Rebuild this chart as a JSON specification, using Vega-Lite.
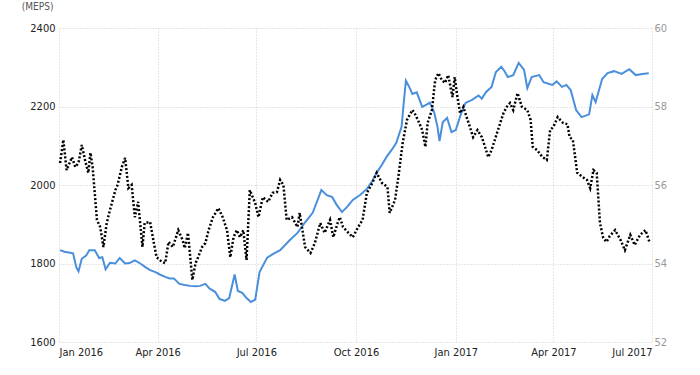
{
  "$schema": "https://vega.github.io/schema/vega-lite/v6.json",
  "width": 593,
  "height": 314,
  "autosize": {"type": "none"},
  "padding": {"left": 59, "top": 28, "right": 48, "bottom": 33},
  "background": "white",
  "title": {"text": "(MEPS)", "anchor": "start", "offset": 10, "dx": -8, "fontSize": 10, "font": "DejaVu Sans Condensed", "fontWeight": "normal", "color": "#555"},
  "config": {
    "view": {"stroke": null},
    "font": "DejaVu Sans Condensed"
  },
  "datasets": {
    "steel": [
      {"date": "2016-01-02", "v": 1834}, {"date": "2016-01-06", "v": 1830}, {"date": "2016-01-10", "v": 1828},
      {"date": "2016-01-14", "v": 1826}, {"date": "2016-01-17", "v": 1790}, {"date": "2016-01-19", "v": 1780},
      {"date": "2016-01-22", "v": 1812}, {"date": "2016-01-26", "v": 1820}, {"date": "2016-01-29", "v": 1834},
      {"date": "2016-02-03", "v": 1834}, {"date": "2016-02-07", "v": 1814}, {"date": "2016-02-10", "v": 1816},
      {"date": "2016-02-13", "v": 1785}, {"date": "2016-02-17", "v": 1802}, {"date": "2016-02-22", "v": 1800},
      {"date": "2016-02-26", "v": 1814}, {"date": "2016-03-02", "v": 1800}, {"date": "2016-03-06", "v": 1801},
      {"date": "2016-03-11", "v": 1808}, {"date": "2016-03-16", "v": 1800}, {"date": "2016-03-21", "v": 1790},
      {"date": "2016-03-25", "v": 1783}, {"date": "2016-03-30", "v": 1778}, {"date": "2016-04-03", "v": 1772},
      {"date": "2016-04-08", "v": 1766}, {"date": "2016-04-12", "v": 1762}, {"date": "2016-04-16", "v": 1762},
      {"date": "2016-04-21", "v": 1748}, {"date": "2016-04-26", "v": 1745}, {"date": "2016-05-01", "v": 1743},
      {"date": "2016-05-06", "v": 1742}, {"date": "2016-05-10", "v": 1743}, {"date": "2016-05-15", "v": 1748},
      {"date": "2016-05-19", "v": 1736}, {"date": "2016-05-24", "v": 1728}, {"date": "2016-05-28", "v": 1710},
      {"date": "2016-06-02", "v": 1705}, {"date": "2016-06-06", "v": 1712}, {"date": "2016-06-09", "v": 1748},
      {"date": "2016-06-11", "v": 1772}, {"date": "2016-06-14", "v": 1730}, {"date": "2016-06-18", "v": 1725},
      {"date": "2016-06-22", "v": 1712}, {"date": "2016-06-26", "v": 1702}, {"date": "2016-06-30", "v": 1708},
      {"date": "2016-07-04", "v": 1778}, {"date": "2016-07-11", "v": 1815}, {"date": "2016-07-17", "v": 1825},
      {"date": "2016-07-23", "v": 1834}, {"date": "2016-08-01", "v": 1860}, {"date": "2016-08-08", "v": 1878},
      {"date": "2016-08-15", "v": 1905}, {"date": "2016-08-22", "v": 1929}, {"date": "2016-08-26", "v": 1958},
      {"date": "2016-08-30", "v": 1987}, {"date": "2016-09-04", "v": 1974}, {"date": "2016-09-09", "v": 1969},
      {"date": "2016-09-13", "v": 1950}, {"date": "2016-09-18", "v": 1931}, {"date": "2016-09-23", "v": 1945},
      {"date": "2016-09-28", "v": 1962}, {"date": "2016-10-05", "v": 1975}, {"date": "2016-10-11", "v": 1990},
      {"date": "2016-10-16", "v": 2010}, {"date": "2016-10-20", "v": 2031}, {"date": "2016-10-25", "v": 2052},
      {"date": "2016-10-29", "v": 2071}, {"date": "2016-11-03", "v": 2090}, {"date": "2016-11-07", "v": 2107},
      {"date": "2016-11-12", "v": 2148}, {"date": "2016-11-14", "v": 2210}, {"date": "2016-11-16", "v": 2266},
      {"date": "2016-11-19", "v": 2250}, {"date": "2016-11-22", "v": 2232}, {"date": "2016-11-26", "v": 2236},
      {"date": "2016-12-01", "v": 2199}, {"date": "2016-12-05", "v": 2205}, {"date": "2016-12-08", "v": 2210},
      {"date": "2016-12-12", "v": 2186}, {"date": "2016-12-15", "v": 2150}, {"date": "2016-12-17", "v": 2112},
      {"date": "2016-12-20", "v": 2160}, {"date": "2016-12-24", "v": 2171}, {"date": "2016-12-28", "v": 2135},
      {"date": "2017-01-01", "v": 2140}, {"date": "2017-01-06", "v": 2183}, {"date": "2017-01-10", "v": 2209},
      {"date": "2017-01-16", "v": 2217}, {"date": "2017-01-22", "v": 2228}, {"date": "2017-01-25", "v": 2220},
      {"date": "2017-01-29", "v": 2237}, {"date": "2017-02-03", "v": 2250}, {"date": "2017-02-07", "v": 2288},
      {"date": "2017-02-12", "v": 2301}, {"date": "2017-02-15", "v": 2290}, {"date": "2017-02-18", "v": 2275},
      {"date": "2017-02-23", "v": 2280}, {"date": "2017-02-28", "v": 2311}, {"date": "2017-03-05", "v": 2293},
      {"date": "2017-03-08", "v": 2247}, {"date": "2017-03-12", "v": 2275}, {"date": "2017-03-19", "v": 2280},
      {"date": "2017-03-23", "v": 2262}, {"date": "2017-03-31", "v": 2255}, {"date": "2017-04-04", "v": 2264},
      {"date": "2017-04-09", "v": 2250}, {"date": "2017-04-13", "v": 2255}, {"date": "2017-04-17", "v": 2242},
      {"date": "2017-04-22", "v": 2191}, {"date": "2017-04-27", "v": 2173}, {"date": "2017-05-04", "v": 2180},
      {"date": "2017-05-07", "v": 2229}, {"date": "2017-05-10", "v": 2211}, {"date": "2017-05-16", "v": 2270},
      {"date": "2017-05-21", "v": 2285}, {"date": "2017-05-27", "v": 2290}, {"date": "2017-06-03", "v": 2283},
      {"date": "2017-06-10", "v": 2295}, {"date": "2017-06-16", "v": 2280}, {"date": "2017-06-22", "v": 2283},
      {"date": "2017-06-28", "v": 2285}
    ],
    "other": [
      {"date": "2016-01-02", "r": 56.56}, {"date": "2016-01-05", "r": 57.15}, {"date": "2016-01-08", "r": 56.38},
      {"date": "2016-01-13", "r": 56.71}, {"date": "2016-01-16", "r": 56.46}, {"date": "2016-01-19", "r": 56.56},
      {"date": "2016-01-22", "r": 57.02}, {"date": "2016-01-25", "r": 56.64}, {"date": "2016-01-28", "r": 56.31},
      {"date": "2016-01-30", "r": 56.82}, {"date": "2016-02-01", "r": 56.46}, {"date": "2016-02-05", "r": 55.11},
      {"date": "2016-02-08", "r": 54.93}, {"date": "2016-02-11", "r": 54.42}, {"date": "2016-02-14", "r": 55.03},
      {"date": "2016-02-17", "r": 55.36}, {"date": "2016-02-22", "r": 55.87}, {"date": "2016-02-24", "r": 56.0},
      {"date": "2016-02-28", "r": 56.46}, {"date": "2016-03-02", "r": 56.69}, {"date": "2016-03-05", "r": 55.92},
      {"date": "2016-03-08", "r": 56.0}, {"date": "2016-03-11", "r": 55.18}, {"date": "2016-03-14", "r": 55.57},
      {"date": "2016-03-18", "r": 54.42}, {"date": "2016-03-20", "r": 55.03}, {"date": "2016-03-25", "r": 55.06},
      {"date": "2016-03-28", "r": 54.6}, {"date": "2016-03-31", "r": 54.16}, {"date": "2016-04-05", "r": 54.04},
      {"date": "2016-04-08", "r": 54.01}, {"date": "2016-04-11", "r": 54.55}, {"date": "2016-04-15", "r": 54.42},
      {"date": "2016-04-20", "r": 54.85}, {"date": "2016-04-24", "r": 54.6}, {"date": "2016-04-26", "r": 54.39},
      {"date": "2016-04-29", "r": 54.78}, {"date": "2016-05-03", "r": 53.58}, {"date": "2016-05-06", "r": 54.01},
      {"date": "2016-05-08", "r": 54.14}, {"date": "2016-05-12", "r": 54.42}, {"date": "2016-05-15", "r": 54.52},
      {"date": "2016-05-18", "r": 54.85}, {"date": "2016-05-22", "r": 55.18}, {"date": "2016-05-27", "r": 55.41},
      {"date": "2016-05-31", "r": 55.18}, {"date": "2016-06-04", "r": 54.85}, {"date": "2016-06-07", "r": 54.16},
      {"date": "2016-06-10", "r": 54.67}, {"date": "2016-06-13", "r": 54.85}, {"date": "2016-06-16", "r": 54.67},
      {"date": "2016-06-19", "r": 54.85}, {"date": "2016-06-22", "r": 54.09}, {"date": "2016-06-25", "r": 55.87},
      {"date": "2016-06-30", "r": 55.54}, {"date": "2016-07-03", "r": 55.18}, {"date": "2016-07-07", "r": 55.69},
      {"date": "2016-07-12", "r": 55.57}, {"date": "2016-07-16", "r": 55.8}, {"date": "2016-07-20", "r": 55.82},
      {"date": "2016-07-23", "r": 56.13}, {"date": "2016-07-26", "r": 56.0}, {"date": "2016-07-29", "r": 55.11},
      {"date": "2016-08-03", "r": 55.18}, {"date": "2016-08-08", "r": 54.93}, {"date": "2016-08-10", "r": 55.29},
      {"date": "2016-08-15", "r": 54.42}, {"date": "2016-08-20", "r": 54.27}, {"date": "2016-08-24", "r": 54.52},
      {"date": "2016-08-29", "r": 55.03}, {"date": "2016-09-02", "r": 54.78}, {"date": "2016-09-07", "r": 55.11},
      {"date": "2016-09-10", "r": 54.67}, {"date": "2016-09-14", "r": 55.03}, {"date": "2016-09-16", "r": 55.18},
      {"date": "2016-09-19", "r": 54.93}, {"date": "2016-09-24", "r": 54.78}, {"date": "2016-09-28", "r": 54.67},
      {"date": "2016-10-03", "r": 54.93}, {"date": "2016-10-07", "r": 55.11}, {"date": "2016-10-11", "r": 55.8},
      {"date": "2016-10-16", "r": 56.05}, {"date": "2016-10-20", "r": 56.31}, {"date": "2016-10-25", "r": 56.05},
      {"date": "2016-10-30", "r": 55.95}, {"date": "2016-11-01", "r": 55.29}, {"date": "2016-11-06", "r": 55.62},
      {"date": "2016-11-09", "r": 56.2}, {"date": "2016-11-13", "r": 57.07}, {"date": "2016-11-17", "r": 57.66},
      {"date": "2016-11-22", "r": 57.91}, {"date": "2016-11-24", "r": 57.83}, {"date": "2016-11-27", "r": 57.66},
      {"date": "2016-12-01", "r": 57.4}, {"date": "2016-12-04", "r": 56.97}, {"date": "2016-12-06", "r": 57.58},
      {"date": "2016-12-10", "r": 57.91}, {"date": "2016-12-13", "r": 58.68}, {"date": "2016-12-16", "r": 58.85},
      {"date": "2016-12-19", "r": 58.68}, {"date": "2016-12-22", "r": 58.6}, {"date": "2016-12-25", "r": 58.8},
      {"date": "2016-12-29", "r": 58.24}, {"date": "2016-12-31", "r": 58.75}, {"date": "2017-01-02", "r": 58.34},
      {"date": "2017-01-05", "r": 57.83}, {"date": "2017-01-08", "r": 57.99}, {"date": "2017-01-11", "r": 57.73},
      {"date": "2017-01-14", "r": 57.48}, {"date": "2017-01-17", "r": 57.22}, {"date": "2017-01-21", "r": 57.4},
      {"date": "2017-01-25", "r": 57.22}, {"date": "2017-01-28", "r": 56.97}, {"date": "2017-01-31", "r": 56.71},
      {"date": "2017-02-03", "r": 56.89}, {"date": "2017-02-08", "r": 57.32}, {"date": "2017-02-11", "r": 57.58},
      {"date": "2017-02-14", "r": 57.83}, {"date": "2017-02-17", "r": 57.99}, {"date": "2017-02-20", "r": 58.09},
      {"date": "2017-02-23", "r": 57.91}, {"date": "2017-02-27", "r": 58.34}, {"date": "2017-03-03", "r": 57.99},
      {"date": "2017-03-08", "r": 57.91}, {"date": "2017-03-11", "r": 57.66}, {"date": "2017-03-13", "r": 56.97},
      {"date": "2017-03-17", "r": 56.89}, {"date": "2017-03-22", "r": 56.71}, {"date": "2017-03-26", "r": 56.64},
      {"date": "2017-03-29", "r": 57.4}, {"date": "2017-04-01", "r": 57.48}, {"date": "2017-04-05", "r": 57.73},
      {"date": "2017-04-10", "r": 57.58}, {"date": "2017-04-14", "r": 57.55}, {"date": "2017-04-16", "r": 57.22},
      {"date": "2017-04-19", "r": 57.15}, {"date": "2017-04-23", "r": 56.31}, {"date": "2017-04-28", "r": 56.2},
      {"date": "2017-05-02", "r": 56.13}, {"date": "2017-05-05", "r": 55.92}, {"date": "2017-05-08", "r": 56.38},
      {"date": "2017-05-11", "r": 56.31}, {"date": "2017-05-14", "r": 55.03}, {"date": "2017-05-17", "r": 54.65},
      {"date": "2017-05-20", "r": 54.55}, {"date": "2017-05-23", "r": 54.7}, {"date": "2017-05-28", "r": 54.85},
      {"date": "2017-06-02", "r": 54.6}, {"date": "2017-06-06", "r": 54.34}, {"date": "2017-06-11", "r": 54.73},
      {"date": "2017-06-15", "r": 54.47}, {"date": "2017-06-20", "r": 54.73}, {"date": "2017-06-25", "r": 54.85},
      {"date": "2017-06-29", "r": 54.52}
    ]
  },
  "encoding": {
    "x": {
      "field": "date", "type": "temporal",
      "scale": {"type": "utc", "domain": [{"year": 2016, "month": 1, "date": 1, "utc": true}, {"year": 2017, "month": 7, "date": 1, "utc": true}]},
      "axis": {
        "title": null,
        "labelExpr": "utcFormat(datum.value, '%b %Y')",
        "values": [
          {"year": 2016, "month": 1, "date": 1, "utc": true}, {"year": 2016, "month": 4, "date": 1, "utc": true},
          {"year": 2016, "month": 7, "date": 1, "utc": true}, {"year": 2016, "month": 10, "date": 1, "utc": true},
          {"year": 2017, "month": 1, "date": 1, "utc": true}, {"year": 2017, "month": 4, "date": 1, "utc": true},
          {"year": 2017, "month": 7, "date": 1, "utc": true}
        ],
        "domain": false, "ticks": false,
        "grid": true, "gridColor": "#ccc", "gridDash": [1, 2],
        "labelColor": "#222", "labelFontSize": 11, "labelPadding": 4, "labelFont": "DejaVu Sans Condensed"
      }
    }
  },
  "layer": [
    {
      "data": {"name": "steel"},
      "mark": {"type": "line", "color": "#4a8fdc", "strokeWidth": 2},
      "encoding": {
        "y": {
          "field": "v", "type": "quantitative",
          "scale": {"domain": [1600, 2400], "nice": false, "zero": false},
          "axis": {
            "title": null, "orient": "left", "values": [1600, 1800, 2000, 2200, 2400], "format": "d",
            "domain": false, "ticks": false, "grid": true, "gridColor": "#ccc", "gridDash": [1, 2],
            "labelColor": "#222", "labelFontSize": 11, "labelPadding": 4, "labelFont": "DejaVu Sans Condensed"
          }
        }
      }
    },
    {
      "data": {"name": "other"},
      "mark": {"type": "line", "color": "#000", "strokeWidth": 2.5, "strokeDash": [2, 2]},
      "encoding": {
        "y": {
          "field": "r", "type": "quantitative",
          "scale": {"domain": [52, 60], "nice": false, "zero": false},
          "axis": {
            "title": null, "orient": "right", "values": [52, 54, 56, 58, 60], "format": "d",
            "domain": false, "ticks": false, "grid": false,
            "labelColor": "#999", "labelFontSize": 11, "labelPadding": 2, "labelFont": "DejaVu Sans Condensed"
          }
        }
      }
    }
  ],
  "resolve": {"scale": {"y": "independent"}}
}
